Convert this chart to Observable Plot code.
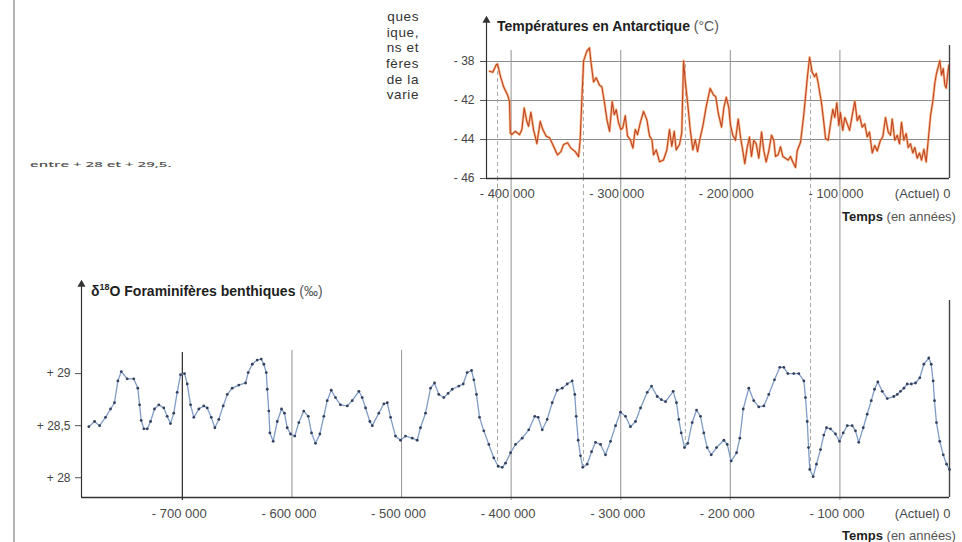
<!DOCTYPE html>
<html><head><meta charset="utf-8">
<script src="https://cdn.jsdelivr.net/npm/d3@7"></script>
<script src="https://cdn.jsdelivr.net/npm/@observablehq/plot@0.6"></script>
<style>
  body{margin:0;background:#fff;}
  #page{position:relative;width:962px;height:542px;overflow:hidden;background:#fff;font-family:"Liberation Sans",Arial,sans-serif;color:#222;}
  #page svg{position:absolute;left:0;top:0;}
  .lbl{position:absolute;white-space:nowrap;line-height:16px;}
  .b{font-weight:bold;color:#1e1e1e;}
  .n{color:#555;}
  #frag{position:absolute;right:543px;top:9px;text-align:right;font-family:"Liberation Sans",Arial,sans-serif;font-size:13.5px;line-height:15.7px;letter-spacing:0.6px;color:#333;}
  #frag div{height:15.7px;}
  #squash{position:absolute;left:30px;top:155px;font-family:"Open Sans",sans-serif;font-size:15px;line-height:18px;font-weight:600;color:#555;white-space:nowrap;transform:scaleY(0.5);transform-origin:left center;}
  #edge{position:absolute;left:13px;top:0;width:2px;height:542px;background:#b4b4b4;}
</style></head>
<body><div id="page"></div>
<script>
// ---------- data ----------
const benthicYears = [-785300,-780100,-775500,-770100,-765500,-761900,-758800,-755700,-750300,-744300,-740600,-739000,-737500,-735100,-732000,-729000,-725400,-721400,-716900,-713800,-710800,-707800,-704700,-701600,-698000,-695500,-692500,-689500,-684900,-680400,-677300,-673600,-670300,-666700,-662700,-659000,-654500,-648400,-642300,-639900,-636200,-631700,-628000,-625600,-623400,-622500,-621100,-620100,-617100,-613400,-609500,-606800,-604300,-601300,-597400,-593700,-589200,-585100,-582100,-578500,-574500,-570900,-567800,-564100,-560200,-555700,-549500,-545000,-538900,-535900,-532800,-528900,-526700,-520700,-516100,-513000,-510000,-505500,-500900,-496400,-490200,-485700,-482700,-478100,-473500,-469900,-466000,-461400,-457500,-453700,-447700,-443700,-440100,-436100,-434000,-431600,-428800,-424900,-420300,-415800,-411800,-408100,-405100,-400500,-396000,-389900,-383900,-378400,-375300,-371600,-367100,-362500,-358000,-353400,-348800,-344300,-341900,-340600,-338800,-336700,-334600,-330600,-326600,-323000,-318400,-313900,-309300,-304700,-300200,-295600,-291100,-286500,-281900,-275800,-271900,-266700,-262900,-259100,-252100,-249100,-247000,-244800,-241800,-238800,-234800,-230800,-227200,-224200,-221100,-217400,-212600,-205900,-202800,-199200,-194300,-191300,-188200,-183100,-178600,-174000,-169400,-164900,-159700,-154800,-151200,-147500,-142100,-137500,-132900,-131400,-129800,-128600,-127500,-124400,-121400,-117700,-114700,-112200,-108600,-104000,-100400,-97000,-93300,-88800,-85800,-82800,-78700,-75100,-71400,-68400,-65400,-61400,-56800,-50800,-47700,-44700,-41600,-38600,-34800,-31000,-27100,-23400,-18900,-16700,-14900,-13700,-11900,-8900,-5700,-2700,0];
const benthicD18O = [28.49,28.54,28.50,28.58,28.66,28.72,28.93,29.02,28.95,28.95,28.86,28.70,28.55,28.47,28.47,28.54,28.66,28.70,28.67,28.59,28.52,28.62,28.82,28.99,29.00,28.90,28.70,28.58,28.66,28.69,28.67,28.58,28.48,28.56,28.69,28.80,28.86,28.89,28.91,29.01,29.09,29.13,29.14,29.09,29.01,28.85,28.64,28.43,28.35,28.54,28.66,28.62,28.48,28.42,28.40,28.53,28.64,28.59,28.43,28.33,28.42,28.59,28.74,28.84,28.77,28.70,28.69,28.74,28.83,28.77,28.67,28.54,28.50,28.62,28.71,28.72,28.58,28.40,28.36,28.40,28.38,28.36,28.48,28.62,28.86,28.91,28.80,28.77,28.81,28.85,28.88,28.90,29.01,29.03,28.94,28.80,28.58,28.45,28.32,28.19,28.11,28.10,28.14,28.24,28.32,28.38,28.46,28.59,28.58,28.46,28.56,28.72,28.84,28.86,28.90,28.93,28.80,28.59,28.36,28.21,28.10,28.13,28.25,28.34,28.32,28.22,28.35,28.50,28.63,28.59,28.49,28.54,28.67,28.82,28.88,28.78,28.75,28.73,28.83,28.72,28.56,28.43,28.29,28.33,28.53,28.65,28.59,28.43,28.29,28.22,28.29,28.36,28.32,28.16,28.24,28.38,28.66,28.86,28.74,28.68,28.69,28.80,28.94,29.06,29.06,29.00,29.00,29.00,28.93,28.77,28.54,28.29,28.08,28.01,28.13,28.27,28.41,28.48,28.47,28.42,28.35,28.43,28.50,28.50,28.45,28.34,28.48,28.61,28.74,28.85,28.92,28.83,28.76,28.78,28.80,28.83,28.86,28.90,28.90,28.91,28.96,29.09,29.15,29.09,28.93,28.74,28.53,28.35,28.22,28.13,28.08];

const vostokYears = [-419700,-416700,-413600,-412400,-410000,-406900,-403300,-401500,-400800,-399400,-396300,-392300,-390200,-388100,-385700,-384100,-382000,-379600,-376500,-373500,-371100,-368000,-365000,-361300,-357700,-354600,-352200,-348500,-345500,-341500,-338500,-337000,-335500,-333900,-330900,-328500,-327300,-324800,-322400,-319300,-317200,-315000,-312600,-310200,-307800,-305900,-304100,-302000,-299900,-298100,-295900,-293800,-291300,-288900,-286800,-284700,-282200,-279200,-276200,-273700,-271600,-270100,-267600,-264600,-261000,-257900,-255500,-253400,-251200,-249400,-246400,-244300,-242700,-241200,-239100,-236600,-234200,-232000,-229900,-227500,-225100,-222000,-218400,-215300,-213300,-211100,-208000,-205900,-203700,-201400,-199800,-197700,-195300,-192800,-190700,-188600,-186800,-184600,-182500,-180700,-178600,-176400,-174000,-171500,-169400,-167300,-164900,-162400,-160300,-158800,-156300,-154200,-152100,-149600,-147200,-145100,-143000,-140500,-139000,-135900,-132900,-129800,-127700,-125300,-123200,-121600,-119800,-118600,-116800,-114700,-113100,-110700,-108600,-106500,-104700,-102800,-101000,-99500,-97400,-95500,-93300,-91200,-88800,-86400,-84200,-82100,-79700,-77300,-75100,-73000,-70500,-68200,-66000,-63000,-60900,-58400,-55900,-53800,-52300,-49900,-47700,-45600,-43800,-41700,-39500,-37700,-35600,-33500,-31700,-29500,-27400,-25500,-23400,-21300,-19400,-17300,-15200,-13400,-11900,-10300,-8800,-7300,-5700,-4300,-3000,-1600,-600];
const vostokTemp = [-39.0,-39.1,-38.33,-38.26,-39.43,-40.6,-41.43,-42.05,-43.66,-43.75,-43.58,-43.75,-43.49,-42.39,-43.07,-43.32,-42.61,-43.49,-44.21,-43.07,-43.49,-43.83,-43.91,-44.35,-44.79,-44.62,-44.26,-44.17,-44.44,-44.62,-44.88,-44.0,-41.96,-37.93,-36.93,-36.6,-37.93,-40.1,-39.66,-40.43,-40.6,-42.05,-42.98,-43.58,-42.05,-42.73,-42.47,-43.15,-43.49,-43.4,-42.78,-43.83,-44.0,-44.44,-43.49,-43.75,-43.15,-42.56,-42.98,-43.83,-44.0,-44.79,-44.53,-45.14,-45.05,-44.53,-43.49,-44.35,-43.58,-44.53,-44.26,-43.66,-37.93,-39.93,-42.05,-43.49,-44.53,-44.0,-44.62,-43.91,-43.32,-42.31,-40.76,-41.43,-41.6,-42.62,-43.37,-42.37,-41.67,-42.37,-43.28,-43.78,-44.04,-42.95,-43.87,-44.59,-45.24,-44.41,-43.87,-44.87,-44.04,-44.22,-44.96,-43.62,-44.59,-45.15,-44.59,-43.78,-44.04,-44.87,-44.78,-44.37,-44.87,-44.96,-45.06,-44.87,-45.15,-45.43,-44.59,-44.13,-42.7,-39.73,-37.57,-39.07,-39.57,-39.23,-40.23,-41.07,-42.12,-43.12,-43.95,-44.04,-43.2,-42.45,-42.87,-42.12,-43.28,-42.62,-43.53,-42.87,-43.2,-43.53,-42.78,-42.03,-43.03,-42.78,-43.37,-43.2,-43.87,-43.62,-44.69,-44.31,-44.59,-44.04,-43.87,-42.87,-43.62,-43.78,-42.95,-44.04,-43.78,-44.22,-43.12,-44.04,-43.7,-44.41,-44.22,-44.69,-44.41,-44.96,-44.69,-45.06,-44.5,-45.15,-44.04,-42.78,-42.03,-40.23,-39.23,-38.57,-37.9,-39.4,-38.73,-40.4,-40.73,-39.23,-38.4];

const xTickValues = [-700000,-600000,-500000,-400000,-300000,-200000,-100000];
const xTickLabels = ["- 700 000","- 600 000","- 500 000","- 400 000","- 300 000","- 200 000","- 100 000"];
const topTickValues = [-400000,-300000,-200000,-100000];
const zeroLabel = "(Actuel) 0";
const benthicTicks = [28, 28.5, 29];
const benthicTickLabels = ["+ 28","+ 28,5","+ 29"];
const tempTicks = [-46,-44,-42,-38];
const tempTickLabels = ["- 46","- 44","- 42","- 38"];
const tempGrid = [-44,-42,-38];
const linkYears = [-412400,-334000,-241000,-126800];
const linkPeakTemp = [-38.3,-38.0,-38.3,-38.0];
const linkTroughD18O = [28.11,28.10,28.30,28.08];
const longGridYears = [-400000,-300000,-200000,-100000];
const shortGridYears = [-600000,-500000];
const darkGridYears = [-700000];

// ---------- derived tables ----------
const benthic = benthicYears.map((t,i)=>({t, v: benthicD18O[i]}));
const vostok = vostokYears.map((t,i)=>({t, v: vostokTemp[i]}));
const links = linkYears.map((t,i)=>({t, peak: linkPeakTemp[i], trough: linkTroughD18O[i]}));
const bLab = new Map(benthicTicks.map((d,i)=>[d, benthicTickLabels[i]]));
const tLab = new Map(tempTicks.map((d,i)=>[d, tempTickLabels[i]]));
const xLab = new Map(xTickValues.map((d,i)=>[d, xTickLabels[i]]));

const FONT = "Liberation Sans, Arial, sans-serif";
const bDom = [27.81, 29.856];

const bottomChart = Plot.plot({
  width: 962, height: 542,
  marginLeft: 81, marginRight: 13, marginTop: 284, marginBottom: 45,
  style: {background: "transparent", fontFamily: FONT, overflow: "visible"},
  x: {domain: [-792000, 0], axis: null},
  y: {type: "linear", domain: bDom, axis: null},
  marks: [
    Plot.ruleX(longGridYears, {stroke: "#9c9c9c", strokeWidth: 1.1, insetTop: -234, insetBottom: -3}),
    Plot.ruleX(shortGridYears, {stroke: "#9c9c9c", strokeWidth: 1.1, insetTop: 66}),
    Plot.ruleX(darkGridYears, {stroke: "#2a2a2a", strokeWidth: 1.2, insetTop: 68, insetBottom: -3}),
    Plot.ruleX(links, {x: "t", y1: () => bDom[1], y2: "trough", insetTop: -107, stroke: "#a8a8a8", strokeWidth: 1, strokeDasharray: "4,3"}),
    Plot.ruleY([bDom[0]], {stroke: "#333", strokeWidth: 1.4}),
    Plot.ruleX([-792000], {stroke: "#333", strokeWidth: 1.2}),
    Plot.ruleX([0], {stroke: "#444", strokeWidth: 1.4, insetTop: 16}),
    Plot.dot([0], {frameAnchor: "top-left", symbol: "triangle", r: 3, fill: "#333", stroke: null}),
    Plot.axisY(benthicTicks, {anchor: "left", tickFormat: d => bLab.get(d), tickSize: 6, tickPadding: 5, fontSize: 12, label: null, stroke: "#555", fill: "#444"}),
    Plot.line(benthic, {x: "t", y: "v", stroke: "#7f9cc6", strokeWidth: 1.3}),
    Plot.dot(benthic, {x: "t", y: "v", r: 1.4, fill: "#33405c", stroke: null}),
    Plot.text(xTickValues, {x: d => d, text: d => xLab.get(d), frameAnchor: "bottom", dy: 16, dx: -3, fontSize: 13, fill: "#4a4a4a", lineAnchor: "middle"}),
    Plot.text([0], {x: d => d, text: () => zeroLabel, frameAnchor: "bottom", dy: 16, dx: 1, textAnchor: "end", fontSize: 13, fill: "#4a4a4a", lineAnchor: "middle"})
  ]
});

const topChart = Plot.plot({
  width: 962, height: 200,
  marginLeft: 486, marginRight: 13, marginTop: 61, marginBottom: 22,
  style: {background: "transparent", fontFamily: FONT, overflow: "visible"},
  x: {domain: [-422500, 0], axis: null},
  // piecewise linear scale: the printed gridlines are evenly spaced at -46, -44, -42, -38
  y: {type: "linear", domain: tempTicks, axis: null},
  marks: [
    Plot.ruleY(tempGrid, {stroke: "#8c8c8c", strokeWidth: 1.1}),
    Plot.ruleX(links, {x: "t", y1: "peak", y2: () => -46, stroke: "#a8a8a8", strokeWidth: 1, strokeDasharray: "4,3"}),
    Plot.line(vostok, {x: "t", y: "v", stroke: "#f5a35e", strokeWidth: 2.6, strokeOpacity: 0.7}),
    Plot.line(vostok, {x: "t", y: "v", stroke: "#bf4526", strokeWidth: 1.1}),
    Plot.ruleY([-46], {stroke: "#333", strokeWidth: 1.4}),
    Plot.ruleX([-422500], {stroke: "#333", strokeWidth: 1.2, insetTop: -41}),
    Plot.ruleX([0], {stroke: "#444", strokeWidth: 1.4, insetTop: -16}),
    Plot.dot([0], {frameAnchor: "top-left", dy: -41, symbol: "triangle", r: 3, fill: "#333", stroke: null}),
    Plot.axisY(tempTicks, {anchor: "left", tickFormat: d => tLab.get(d), tickSize: 6, tickPadding: 6, fontSize: 12, label: null, stroke: "#555", fill: "#444"}),
    Plot.text(topTickValues, {x: d => d, text: d => xLab.get(d), frameAnchor: "bottom", dy: 15, dx: -4, fontSize: 13, fill: "#4a4a4a", lineAnchor: "middle"}),
    Plot.text([0], {x: d => d, text: () => zeroLabel, frameAnchor: "bottom", dy: 15, dx: 1, textAnchor: "end", fontSize: 13, fill: "#4a4a4a", lineAnchor: "middle"})
  ]
});

const page = document.getElementById("page");
page.insertAdjacentHTML("beforeend", `<div id="edge"></div>
<div id="frag"><div>ques</div><div>ique,</div><div>ns et</div><div>fères</div><div>de la</div><div>varie</div></div>
<div id="squash">entre + 28 et + 29,5.</div>`);
page.appendChild(bottomChart);
page.appendChild(topChart);
page.insertAdjacentHTML("beforeend", `
<div class="lbl" style="left:497px;top:18px;font-size:14px;"><span class="b">Températures en Antarctique</span> <span class="n">(°C)</span></div>
<div class="lbl" style="left:91px;top:279px;font-size:14px;"><span class="b">δ<sup style="font-size:9px;">18</sup>O Foraminifères benthiques</span> <span class="n">(‰)</span></div>
<div class="lbl" style="left:842px;top:209px;font-size:13px;"><span class="b">Temps</span> <span class="n">(en années)</span></div>
<div class="lbl" style="left:842px;top:528px;font-size:13px;"><span class="b">Temps</span> <span class="n">(en années)</span></div>`);
</script>
</body></html>
